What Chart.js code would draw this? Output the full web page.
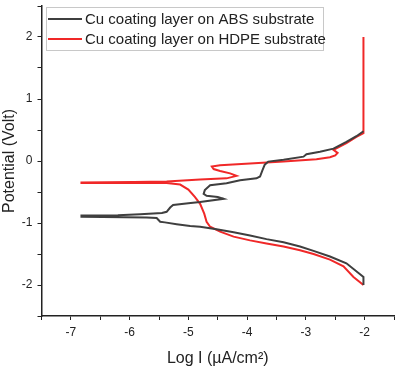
<!DOCTYPE html>
<html>
<head>
<meta charset="utf-8">
<script src="https://cdn.jsdelivr.net/npm/chart.js@4/dist/chart.umd.min.js"></script>
<style>
  html, body { margin: 0; padding: 0; background: #fff; }
</style>
</head>
<body>
<canvas id="tafel_chart" width="397" height="370"></canvas>
<script>
// polarization data, ordered along the sweep (cathodic -> anodic)
var absLogI = [-2.02, -2.02, -2.31, -2.59, -2.87, -3.10, -3.38, -3.67, -3.95, -4.23, -4.52, -4.80, -4.97, -5.20, -5.40, -5.48, -5.54, -5.71, -6.82,
  -6.82, -6.20, -5.82, -5.45, -5.37, -5.31, -5.26, -5.00, -4.80, -4.40, -4.50, -4.69, -4.74, -4.72, -4.63, -4.35, -4.12, -3.84, -3.78, -3.74, -3.70, -3.64, -3.38, -3.04, -2.99, -2.76, -2.53, -2.31, -2.14, -2.02];
var absPotential = [-2.00, -1.87, -1.65, -1.54, -1.45, -1.38, -1.31, -1.26, -1.20, -1.15, -1.10, -1.06, -1.05, -1.02, -0.99, -0.98, -0.92, -0.91, -0.90,
  -0.88, -0.875, -0.86, -0.84, -0.82, -0.75, -0.71, -0.68, -0.66, -0.61, -0.58, -0.56, -0.53, -0.47, -0.39, -0.36, -0.31, -0.28, -0.25, -0.15, -0.06, -0.01, 0.02, 0.07, 0.11, 0.15, 0.20, 0.31, 0.40, 0.48];

var hdpeLogI = [-2.02, -2.19, -2.36, -2.59, -2.87, -3.10, -3.38, -3.67, -3.95, -4.23, -4.46, -4.63, -4.69, -4.73, -4.80, -4.89, -5.00, -5.14, -5.37, -6.00, -6.82,
  -6.82, -5.93, -5.37, -4.80, -4.35, -4.18, -4.29, -4.46, -4.57, -4.60, -4.46, -3.95, -3.38, -2.82, -2.59, -2.50, -2.46, -2.53, -2.31, -2.14, -2.02, -2.02];
var hdpePotential = [-2.00, -1.87, -1.70, -1.59, -1.50, -1.44, -1.38, -1.33, -1.28, -1.22, -1.14, -1.06, -0.98, -0.85, -0.69, -0.58, -0.46, -0.38, -0.355, -0.355, -0.355,
  -0.345, -0.34, -0.33, -0.30, -0.28, -0.24, -0.20, -0.16, -0.13, -0.09, -0.07, -0.04, -0.01, 0.03, 0.06, 0.09, 0.13, 0.18, 0.29, 0.39, 0.45, 2.00];

var seriesLabels = ['Cu coating layer on ABS substrate', 'Cu coating layer on HDPE substrate'];

function toPoints(xs, ys) {
  var pts = [];
  for (var i = 0; i < xs.length; i++) pts.push({ x: xs[i], y: ys[i] });
  return pts;
}

// legend drawn inside the plot, top-left, like the original
var insideLegend = {
  id: 'insideLegend',
  afterDatasetsDraw: function(chart) {
    var ctx = chart.ctx;
    var left = 46, top = 7;
    ctx.save();
    ctx.strokeStyle = '#c8c8c8';
    ctx.lineWidth = 1;
    ctx.fillStyle = '#fff';
    ctx.fillRect(left + 0.5, top + 0.5, 277, 43);
    ctx.strokeRect(left + 0.5, top + 0.5, 277, 43);
    ctx.font = '15px "Liberation Sans", Arial, sans-serif';
    ctx.textBaseline = 'middle';
    chart.data.datasets.forEach(function(ds, i) {
      var y = 19 + i * 20;
      ctx.strokeStyle = ds.borderColor;
      ctx.lineWidth = 2;
      ctx.beginPath();
      ctx.moveTo(48, y);
      ctx.lineTo(82, y);
      ctx.stroke();
      ctx.fillStyle = '#222';
      ctx.fillText(ds.label, 85, y + 1);
    });
    ctx.restore();
  }
};

function majorOnly(value) {
  return Number.isInteger(value) ? String(value) : '';
}

var tc = document.getElementById('tafel_chart');
var tafelChart = new Chart(tc, {
  type: 'scatter',
  data: {
    datasets: [{
      label: seriesLabels[0],
      data: toPoints(absLogI, absPotential),
      showLine: true,
      borderColor: '#3f3f3f',
      borderWidth: 2,
      pointRadius: 0,
      tension: 0
    }, {
      label: seriesLabels[1],
      data: toPoints(hdpeLogI, hdpePotential),
      showLine: true,
      borderColor: '#f02828',
      borderWidth: 2,
      pointRadius: 0,
      tension: 0
    }]
  },
  options: {
    responsive: false,
    animation: false,
    layout: { padding: { top: 6, right: 3, left: 0, bottom: 0 } },
    plugins: {
      legend: { display: false },
      tooltip: { enabled: false }
    },
    scales: {
      x: {
        min: -7.5,
        max: -1.5,
        afterFit: function(scale) {
          scale.height = 54;
          scale.paddingLeft = 0;
          scale.paddingRight = 0;
        },
        border: { display: true, color: '#222', width: 1.5 },
        grid: { drawOnChartArea: false, drawTicks: true, tickLength: 4, color: '#222' },
        ticks: {
          stepSize: 0.5,
          autoSkip: false,
          maxRotation: 0,
          padding: 5,
          color: '#222',
          font: { family: '"Liberation Sans", Arial, sans-serif', size: 12 },
          callback: majorOnly
        },
        title: {
          display: true,
          text: 'Log I (µA/cm²)',
          color: '#222',
          padding: { top: 4, bottom: 2 },
          font: { family: '"Liberation Sans", Arial, sans-serif', size: 16 }
        }
      },
      y: {
        min: -2.5,
        max: 2.5,
        afterFit: function(scale) {
          scale.width = 41.5;
          scale.paddingTop = 0;
          scale.paddingBottom = 0;
        },
        border: { display: true, color: '#222', width: 1.5 },
        grid: { drawOnChartArea: false, drawTicks: true, tickLength: 4, color: '#222' },
        ticks: {
          stepSize: 0.5,
          autoSkip: false,
          padding: 5,
          color: '#222',
          font: { family: '"Liberation Sans", Arial, sans-serif', size: 12 },
          callback: majorOnly
        },
        title: {
          display: true,
          text: 'Potential (Volt)',
          color: '#222',
          padding: { top: 0, bottom: 2 },
          font: { family: '"Liberation Sans", Arial, sans-serif', size: 16 }
        }
      }
    }
  },
  plugins: [insideLegend]
});
</script>
</body>
</html>
